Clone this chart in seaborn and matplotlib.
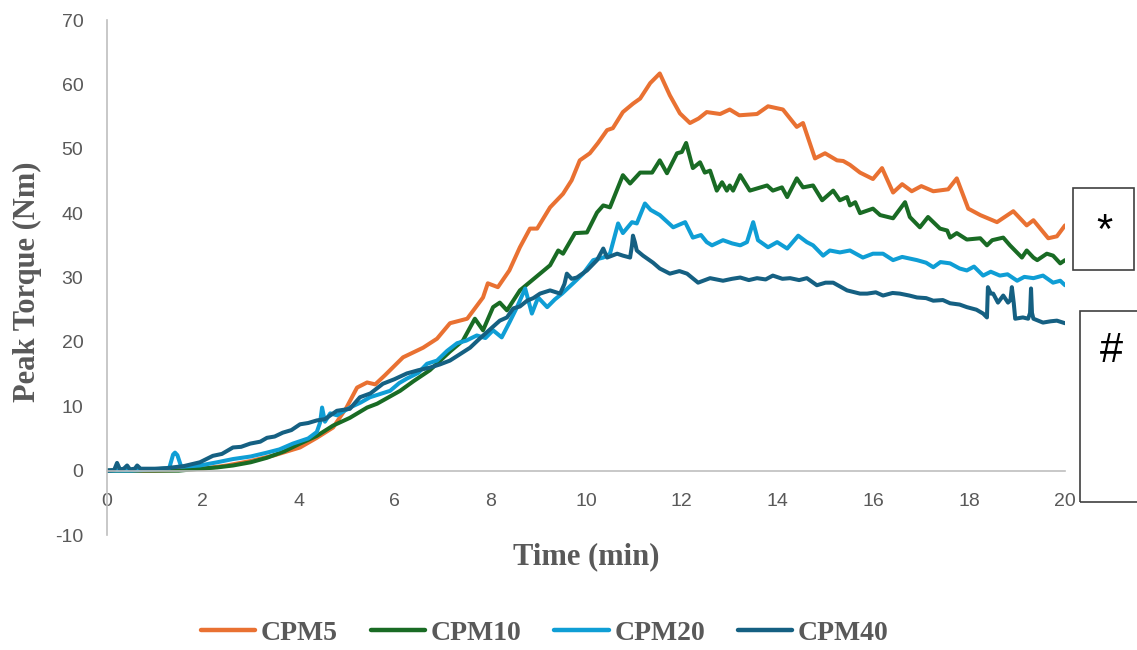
import matplotlib
matplotlib.use("Agg")
import matplotlib.pyplot as plt
import pandas as pd
import seaborn as sns
from matplotlib.lines import Line2D
from matplotlib.patches import Rectangle
from matplotlib.font_manager import FontProperties

# ---------------- data ----------------
series_names = ["CPM5", "CPM10", "CPM20", "CPM40"]
series_colors = ["#E97132", "#196B24", "#0F9ED5", "#156082"]

cpm5_t = [0, 0.5, 1.0, 1.5, 2.0, 2.5, 3.0, 3.5, 4.03, 4.38, 4.72, 5.0, 5.22, 5.43, 5.6,
          5.8, 6.18, 6.6, 6.89, 7.16, 7.52, 7.85, 7.95, 8.16, 8.4, 8.62, 8.83, 8.98, 9.25, 9.52,
          9.7, 9.87, 10.08, 10.25, 10.44, 10.56, 10.77, 10.98, 11.13, 11.34, 11.54, 11.75, 11.96,
          12.17, 12.35, 12.52, 12.8, 13.0, 13.2, 13.57, 13.8, 14.11, 14.4, 14.53, 14.78, 14.99,
          15.24, 15.37, 15.51, 15.72, 15.99, 16.18, 16.41, 16.6, 16.8, 17.0, 17.25, 17.56, 17.74,
          17.98, 18.23, 18.58, 18.92, 19.2, 19.34, 19.65, 19.83, 20.0]
cpm5_v = [0, 0, 0, 0.1, 0.3, 0.8, 1.5, 2.4, 3.6, 5.1, 6.7, 9.8, 12.9, 13.7, 13.4,
          14.8, 17.6, 19.1, 20.5, 22.9, 23.6, 26.9, 29.1, 28.5, 31.1, 34.7, 37.6, 37.6, 40.9, 43.0,
          45.1, 48.2, 49.3, 50.9, 52.9, 53.2, 55.7, 57.0, 57.8, 60.2, 61.7, 58.3, 55.5,
          54.0, 54.7, 55.7, 55.4, 56.1, 55.2, 55.4, 56.6, 56.1, 53.4, 54.0, 48.5, 49.3,
          48.2, 48.1, 47.5, 46.3, 45.3, 47.0, 43.2, 44.5, 43.4, 44.2, 43.4, 43.7, 45.4,
          40.7, 39.7, 38.6, 40.3, 38.1, 38.9, 36.1, 36.4, 38.1]

cpm10_t = [0, 0.5, 1.0, 1.5, 1.94, 2.3, 2.63, 3.0, 3.34, 3.7, 4.03, 4.38, 4.72, 5.07, 5.43,
           5.64, 6.12, 6.4, 6.74, 7.16, 7.43, 7.68, 7.85, 8.06, 8.2, 8.35, 8.62, 9.04, 9.25, 9.42,
           9.52, 9.77, 10.02, 10.23, 10.36, 10.5, 10.77, 10.92, 11.13, 11.38, 11.54, 11.69, 11.9,
           12.0, 12.09, 12.23, 12.38, 12.48, 12.59, 12.73, 12.84, 12.94, 13.0, 13.07, 13.22, 13.42,
           13.78, 13.9, 14.09, 14.2, 14.4, 14.53, 14.74, 14.93, 15.16, 15.3, 15.45, 15.51, 15.62,
           15.72, 15.99, 16.14, 16.41, 16.66, 16.76, 16.97, 17.14, 17.39, 17.54, 17.6, 17.74,
           17.95, 18.23, 18.37, 18.48, 18.71, 18.85, 19.1, 19.2, 19.34, 19.42, 19.62, 19.75,
           19.9, 20.0]
cpm10_v = [0, 0, 0, 0, 0.3, 0.5, 0.8, 1.3, 2.0, 3.0, 4.2, 5.4, 7.0, 8.2, 9.8,
           10.4, 12.4, 13.9, 15.6, 18.5, 20.2, 23.6, 21.8, 25.4, 26.1, 24.9, 28.0, 30.6, 31.9, 34.2,
           33.7, 36.9, 37.0, 40.1, 41.2, 40.9, 45.9, 44.6, 46.3, 46.3, 48.2, 46.2, 49.3,
           49.5, 50.9, 47.0, 47.9, 46.3, 46.6, 43.5, 44.8, 43.5, 44.3, 43.5, 45.9, 43.5,
           44.3, 43.5, 44.0, 42.5, 45.4, 44.0, 44.3, 42.0, 43.5, 42.0, 42.5, 41.2, 41.7,
           40.0, 40.7, 39.7, 39.2, 41.7, 39.4, 37.8, 39.4, 37.6, 37.3, 36.2, 36.9,
           35.9, 36.1, 35.0, 35.8, 36.2, 35.0, 33.1, 34.2, 33.1, 32.7, 33.7, 33.4,
           32.2, 32.7]

cpm20_t = [0, 0.5, 1.0, 1.3, 1.38, 1.42, 1.47, 1.55, 1.94, 2.3, 2.63, 3.0, 3.34, 3.6, 3.88,
           4.2, 4.38, 4.45, 4.49, 4.55, 4.66, 4.8, 5.07, 5.3, 5.49, 5.7, 5.91, 6.1, 6.26, 6.5,
           6.68, 6.89, 7.1, 7.31, 7.5, 7.72, 7.9, 8.06, 8.24, 8.4, 8.56, 8.73, 8.87, 9.0, 9.19,
           9.35, 9.5, 9.73, 9.94, 10.15, 10.36, 10.5, 10.67, 10.77, 10.96, 11.06, 11.23, 11.35,
           11.54, 11.82, 12.07, 12.23, 12.4, 12.52, 12.63, 12.86, 13.05, 13.22, 13.36, 13.49,
           13.59, 13.8, 13.99, 14.2, 14.43, 14.61, 14.74, 14.95, 15.09, 15.3, 15.51, 15.78,
           15.99, 16.2, 16.41, 16.6, 16.91, 17.1, 17.25, 17.4, 17.6, 17.8, 17.95, 18.1, 18.29,
           18.45, 18.64, 18.8, 19.0, 19.15, 19.34, 19.54, 19.75, 19.9, 20.0]
cpm20_v = [0, 0, 0.2, 0.4, 2.5, 2.8, 2.4, 0.6, 0.8, 1.3, 1.8, 2.2, 2.8, 3.3, 4.2,
           5.0, 6.0, 7.5, 9.8, 7.6, 8.9, 8.6, 9.8, 10.6, 11.4, 11.9, 12.4, 13.6, 14.3, 15.2,
           16.6, 17.1, 18.6, 19.8, 20.2, 21.0, 20.6, 21.8, 20.7, 23.0, 25.4, 28.3, 24.4, 26.9, 25.4,
           26.6, 27.5, 29.1, 30.6, 32.7, 33.1, 33.7, 38.4, 36.9, 38.6, 38.4, 41.5, 40.5,
           39.7, 37.8, 38.6, 36.2, 36.6, 35.5, 35.0, 35.8, 35.3, 35.0, 35.5, 38.6,
           35.8, 34.7, 35.5, 34.5, 36.5, 35.5, 35.0, 33.4, 34.2, 33.9, 34.2, 33.1,
           33.7, 33.7, 32.7, 33.2, 32.7, 32.3, 31.6, 32.4, 32.2, 31.4, 31.1, 31.7, 30.3,
           30.9, 30.3, 30.5, 29.5, 30.1, 29.9, 30.3, 29.2, 29.5, 28.8]

cpm40_t = [0, 0.15, 0.21, 0.27, 0.35, 0.42, 0.48, 0.58, 0.63, 0.7, 1.0, 1.25, 1.6, 1.94, 2.21,
           2.4, 2.63, 2.8, 2.99, 3.2, 3.34, 3.5, 3.67, 3.85, 4.03, 4.2, 4.38, 4.55, 4.8, 5.07,
           5.28, 5.5, 5.76, 6.0, 6.26, 6.5, 6.74, 6.95, 7.16, 7.35, 7.58, 7.75, 7.93, 8.2, 8.35,
           8.48, 8.62, 8.77, 8.9, 9.04, 9.25, 9.46, 9.55, 9.6, 9.7, 9.81, 10.02, 10.23, 10.36, 10.44,
           10.65, 10.77, 10.92, 10.96, 10.98, 11.02, 11.06, 11.19, 11.4, 11.54, 11.75, 11.95, 12.11,
           12.34, 12.59, 12.86, 13.05, 13.22, 13.4, 13.57, 13.75, 13.9, 14.1, 14.26, 14.45, 14.61,
           14.82, 15.0, 15.16, 15.45, 15.72, 15.87, 16.05, 16.2, 16.4, 16.55, 16.75, 16.91, 17.1,
           17.25, 17.45, 17.6, 17.8, 17.95, 18.15, 18.29, 18.37, 18.39, 18.45, 18.5, 18.6, 18.71,
           18.81, 18.86, 18.89, 18.93, 18.96, 19.12, 19.23, 19.27, 19.29, 19.31, 19.34, 19.54,
           19.7, 19.83, 20.0]
cpm40_v = [0, 0.1, 1.2, 0.2, 0.3, 0.8, 0.2, 0.3, 0.8, 0.3, 0.3, 0.4, 0.7, 1.3, 2.3,
           2.6, 3.6, 3.7, 4.2, 4.5, 5.1, 5.3, 5.9, 6.3, 7.2, 7.4, 7.8, 8.0, 9.3, 9.6,
           11.4, 12.0, 13.5, 14.2, 15.1, 15.6, 16.0, 16.5, 17.1, 18.0, 19.1, 20.3, 21.5, 23.3, 23.8,
           25.2, 25.5, 26.4, 26.8, 27.5, 28.0, 27.5, 29.0, 30.6, 29.8, 30.0, 31.1, 32.7, 34.5, 33.1,
           33.7, 33.4, 33.1, 35.0, 36.5, 35.5, 34.2, 33.4, 32.3, 31.4, 30.6, 31.0, 30.6,
           29.2, 29.9, 29.5, 29.8, 30.0, 29.6, 29.9, 29.7, 30.3, 29.8, 29.9, 29.6, 29.9,
           28.8, 29.2, 29.2, 28.0, 27.5, 27.5, 27.7, 27.2, 27.6, 27.5, 27.2, 26.9, 26.8,
           26.4, 26.5, 26.0, 25.8, 25.4, 25.0, 24.4, 23.8, 28.5, 27.5, 27.5, 26.1, 27.2,
           26.1, 26.5, 28.5, 26.0, 23.6, 23.8, 23.6, 24.5, 28.3, 24.5, 23.6, 23.0,
           23.2, 23.3, 22.9]

x_ticks = [0, 2, 4, 6, 8, 10, 12, 14, 16, 18, 20]
y_ticks = [-10, 0, 10, 20, 30, 40, 50, 60, 70]
x_label = "Time (min)"
y_label = "Peak Torque (Nm)"
box_marks = ["*", "#"]

# ---------------- build long table ----------------
frames = []
for name, t, v in zip(series_names,
                      [cpm5_t, cpm10_t, cpm20_t, cpm40_t],
                      [cpm5_v, cpm10_v, cpm20_v, cpm40_v]):
    frames.append(pd.DataFrame({"Time": t, "Torque": v, "Series": name}))
df = pd.concat(frames, ignore_index=True)

# ---------------- figure ----------------
sns.set_style("white")
plt.rcParams["font.family"] = ["Liberation Sans", "DejaVu Sans"]
plt.rcParams["axes.unicode_minus"] = False

fig = plt.figure(figsize=(11.37, 6.5), dpi=100)
ax = fig.add_axes([0.0941, 0.1769, 0.8426, 0.7923])

palette = dict(zip(series_names, series_colors))
sns.lineplot(data=df, x="Time", y="Torque", hue="Series", palette=palette,
             estimator=None, sort=False, linewidth=2.9, legend=False, ax=ax)
for ln in ax.get_lines():
    ln.set_solid_capstyle("round")
    ln.set_solid_joinstyle("round")

ax.set_xlim(0, 20)
ax.set_ylim(-10, 70)
ax.set_xticks(x_ticks)
ax.set_yticks(y_ticks)
ax.grid(False)

for s in ["top", "right"]:
    ax.spines[s].set_visible(False)
ax.spines["left"].set_color("#BFBFBF")
ax.spines["left"].set_linewidth(1.2)
ax.spines["bottom"].set_color("#BFBFBF")
ax.spines["bottom"].set_linewidth(1.2)
ax.spines["bottom"].set_position(("data", 0))

ax.tick_params(axis="both", length=0, labelsize=14, labelcolor="#595959")
ax.tick_params(axis="x", pad=16)
ax.tick_params(axis="y", pad=17)

label_font = dict(family="Liberation Serif", weight="bold", size=22, color="#595959")
ax.set_xlabel(x_label, **label_font)
ax.set_ylabel(y_label, **label_font)
ax.xaxis.set_label_coords(0.500, -0.0427)
ax.xaxis.label.set_va("center")
ax.yaxis.set_label_coords(-0.083, 0.491)
ax.yaxis.label.set_va("center")
ax.yaxis.label.set_ha("center")

# legend
handles = [Line2D([0], [0], color=c, lw=3.2, solid_capstyle="round") for c in series_colors]
leg = fig.legend(handles, series_names, loc="center", bbox_to_anchor=(0.479, 0.026),
                 ncol=4, frameon=False,
                 prop=FontProperties(family="Liberation Serif", weight="bold", size=20),
                 handlelength=1.95, handletextpad=0.2, columnspacing=1.2)
for txt in leg.get_texts():
    txt.set_color("#595959")

# annotation boxes
fig.add_artist(Rectangle((0.9437, 0.5846), 0.0537, 0.1262, transform=fig.transFigure,
                         fill=False, edgecolor="#404040", linewidth=1.2))
fig.add_artist(Rectangle((0.9499, 0.2277), 0.07, 0.2938, transform=fig.transFigure,
                         fill=False, edgecolor="#404040", linewidth=1.2))
fig.text(0.9714, 0.626, box_marks[0], fontsize=30, ha="center", va="baseline", color="black")
fig.text(0.9776, 0.443, box_marks[1], fontsize=30, ha="center", va="baseline", color="black")

fig.savefig("out.png", dpi=100)
